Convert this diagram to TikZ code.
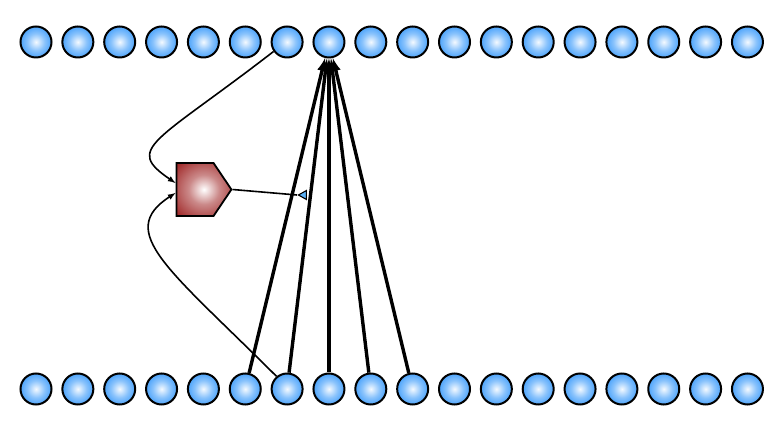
\documentclass[tikz,border=0pt]{standalone}
\usepackage{xcolor}
\usepackage{tikz}
\usetikzlibrary{shapes.geometric,shapes.symbols}
\definecolor{bleuboule}{RGB}{40,145,250}
\definecolor{rougebloc}{RGB}{160,40,40}
\definecolor{bleupointe}{RGB}{90,175,245}
\pgfdeclareradialshading{boule}{\pgfpoint{0bp}{0bp}}{color(0bp)=(white!95!bleuboule); color(14bp)=(white!45!bleuboule); color(32bp)=(bleuboule); color(70bp)=(bleuboule)}
\pgfdeclareradialshading{bloc}{\pgfpoint{0bp}{0bp}}{color(0bp)=(white); color(14bp)=(white!45!rougebloc); color(34bp)=(rougebloc); color(70bp)=(rougebloc)}

\begin{document}
\begin{tikzpicture}[x=1pt,y=1pt]
% Styles (MODIFIABLES)
\tikzstyle{fleche}=[->,>=latex,line width=3.4pt]
\tikzstyle{lien}=[->,>=latex,line width=1.6pt]
\tikzstyle{trait}=[line width=1.6pt]
\tikzstyle{neurone}=[circle,draw,line width=2pt,minimum size=31pt,inner sep=0pt,shading=boule]
\tikzstyle{module}=[signal,signal to=east,signal from=nowhere,signal pointer angle=112,draw,line width=1.8pt,minimum width=55pt,minimum height=53pt,inner sep=0pt,shading=bloc]
\tikzstyle{pointe}=[isosceles triangle,isosceles triangle stretches,draw,fill=bleupointe,line width=1.1pt,inner sep=0pt,minimum width=9pt,minimum height=8pt,shape border rotate=175]
% Dimensions (MODIFIABLES)
\def\InterNoeuds{41.85}
\def\Marge{36}
\def\NiveauHaut{388}
\def\NiveauBas{41}
% Cadre
\useasboundingbox (0,0) rectangle (783,430);
% Noeuds du haut
\node[neurone] (H1) at ({\Marge+(0)*\InterNoeuds},{\NiveauHaut}) {};
\node[neurone] (H2) at ({\Marge+(1)*\InterNoeuds},{\NiveauHaut}) {};
\node[neurone] (H3) at ({\Marge+(2)*\InterNoeuds},{\NiveauHaut}) {};
\node[neurone] (H4) at ({\Marge+(3)*\InterNoeuds},{\NiveauHaut}) {};
\node[neurone] (H5) at ({\Marge+(4)*\InterNoeuds},{\NiveauHaut}) {};
\node[neurone] (H6) at ({\Marge+(5)*\InterNoeuds},{\NiveauHaut}) {};
\node[neurone] (H7) at ({\Marge+(6)*\InterNoeuds},{\NiveauHaut}) {};
\node[neurone] (H8) at ({\Marge+(7)*\InterNoeuds},{\NiveauHaut}) {};
\node[neurone] (H9) at ({\Marge+(8)*\InterNoeuds},{\NiveauHaut}) {};
\node[neurone] (H10) at ({\Marge+(9)*\InterNoeuds},{\NiveauHaut}) {};
\node[neurone] (H11) at ({\Marge+(10)*\InterNoeuds},{\NiveauHaut}) {};
\node[neurone] (H12) at ({\Marge+(11)*\InterNoeuds},{\NiveauHaut}) {};
\node[neurone] (H13) at ({\Marge+(12)*\InterNoeuds},{\NiveauHaut}) {};
\node[neurone] (H14) at ({\Marge+(13)*\InterNoeuds},{\NiveauHaut}) {};
\node[neurone] (H15) at ({\Marge+(14)*\InterNoeuds},{\NiveauHaut}) {};
\node[neurone] (H16) at ({\Marge+(15)*\InterNoeuds},{\NiveauHaut}) {};
\node[neurone] (H17) at ({\Marge+(16)*\InterNoeuds},{\NiveauHaut}) {};
\node[neurone] (H18) at ({\Marge+(17)*\InterNoeuds},{\NiveauHaut}) {};
% Noeuds du bas
\node[neurone] (B1) at ({\Marge+(0)*\InterNoeuds},{\NiveauBas}) {};
\node[neurone] (B2) at ({\Marge+(1)*\InterNoeuds},{\NiveauBas}) {};
\node[neurone] (B3) at ({\Marge+(2)*\InterNoeuds},{\NiveauBas}) {};
\node[neurone] (B4) at ({\Marge+(3)*\InterNoeuds},{\NiveauBas}) {};
\node[neurone] (B5) at ({\Marge+(4)*\InterNoeuds},{\NiveauBas}) {};
\node[neurone] (B6) at ({\Marge+(5)*\InterNoeuds},{\NiveauBas}) {};
\node[neurone] (B7) at ({\Marge+(6)*\InterNoeuds},{\NiveauBas}) {};
\node[neurone] (B8) at ({\Marge+(7)*\InterNoeuds},{\NiveauBas}) {};
\node[neurone] (B9) at ({\Marge+(8)*\InterNoeuds},{\NiveauBas}) {};
\node[neurone] (B10) at ({\Marge+(9)*\InterNoeuds},{\NiveauBas}) {};
\node[neurone] (B11) at ({\Marge+(10)*\InterNoeuds},{\NiveauBas}) {};
\node[neurone] (B12) at ({\Marge+(11)*\InterNoeuds},{\NiveauBas}) {};
\node[neurone] (B13) at ({\Marge+(12)*\InterNoeuds},{\NiveauBas}) {};
\node[neurone] (B14) at ({\Marge+(13)*\InterNoeuds},{\NiveauBas}) {};
\node[neurone] (B15) at ({\Marge+(14)*\InterNoeuds},{\NiveauBas}) {};
\node[neurone] (B16) at ({\Marge+(15)*\InterNoeuds},{\NiveauBas}) {};
\node[neurone] (B17) at ({\Marge+(16)*\InterNoeuds},{\NiveauBas}) {};
\node[neurone] (B18) at ({\Marge+(17)*\InterNoeuds},{\NiveauBas}) {};
% Module et pointe
\node[module,anchor=west] (P) at (175.5,240.5) {};
\node[pointe,anchor=apex] (T) at (297,235) {};
% Arcs
\draw[fleche] (B6)--(H8);
\draw[fleche] (B7)--(H8);
\draw[fleche] (B8)--(H8);
\draw[fleche] (B9)--(H8);
\draw[fleche] (B10)--(H8);
\draw[lien] (H7.-145) .. controls (154.5,286.5) and (124,282) .. ([yshift=6.5pt]P.west);
\draw[lien] (B7.130) .. controls (169,161) and (115,198) .. ([yshift=-3.5pt]P.west);
\draw[trait] (P.east)--(T.apex);
\end{tikzpicture}
\end{document}
